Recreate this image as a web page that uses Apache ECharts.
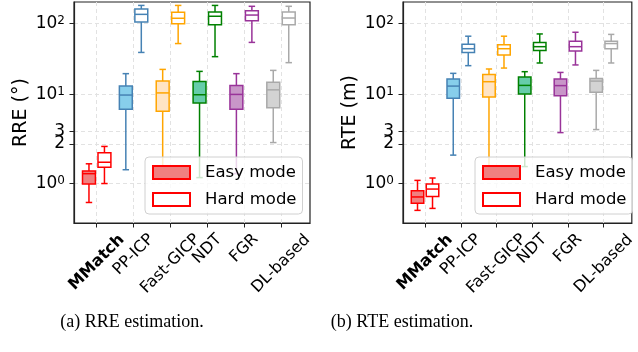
<!DOCTYPE html>
<html>
<head>
<meta charset="utf-8">
<script src="https://cdn.jsdelivr.net/npm/echarts@6/dist/echarts.min.js"></script>
<style>
  html, body { margin: 0; padding: 0; background: #fff; }
  #chart { width: 638px; height: 352px; }
</style>
</head>
<body>
<div id="chart"></div>
<script>
const methods = ['MMatch', 'PP-ICP', 'Fast-GICP', 'NDT', 'FGR', 'DL-based'];
const edgeColors = ['#ff0000', '#4682b4', '#ffa500', '#008000', '#993399', '#a9a9a9'];
const fillColors = ['#f08080', '#87ceeb', '#ffe4c4', '#66cdaa', '#c896c8', '#d3d3d3'];

// [min, q1, median, q3, max] per method
const rreEasy = [[0.52, 0.99, 1.25, 1.32, 1.5], [1.35, 6.2, 9.8, 13.1, 19.6], [1.15, 5.8, 10.5, 15.4, 22.5],
                 [1.15, 7.6, 9.9, 15.2, 21.1], [1.25, 6.2, 10.0, 13.4, 19.6], [2.1, 6.5, 11.6, 14.8, 21.8]];
const rreHard = [[1.0, 1.41, 1.54, 1.78, 1.94], [39, 105, 134, 159, 179], [52, 99, 118, 143, 179],
                 [34, 96, 126, 145, 179], [54, 109, 131, 151, 174], [28, 96, 119, 145, 174]];
const rteEasy = [[0.32, 0.5, 0.66, 0.82, 1.08], [1.72, 8.8, 13.1, 16.5, 19.8], [1.2, 9.2, 15.1, 19.1, 22.8],
                 [1.43, 10.1, 13.4, 17.6, 20.9], [2.9, 9.6, 13.3, 16.5, 20.4], [3.2, 10.7, 15.4, 16.8, 21.8]];
const rteHard = [[0.37, 0.67, 0.86, 0.99, 1.14], [25.4, 39, 44, 51, 66], [23.5, 36, 44, 50, 66],
                 [27.7, 41.6, 47, 54, 71], [26, 41, 47, 56, 75], [27.7, 44, 52, 56, 70]];

const yTickValues = [1, 2, 3, 10, 100];
const yTickLabels = ['10{s|0}', '2', '3', '10{s|1}', '10{s|2}'];
const yMax = 200;

// matplotlib-style symlog, linthresh 2, linscale 1
const LIN = 2, LSC = 1 / 0.9;
function symlog(v) {
    return v <= LIN ? v * LSC : LIN * (LSC + Math.log10(v / LIN));
}

const BOX_W = 0.35;
const OFFSET = 0.21;
const font = 'DejaVu Sans';

// rotated x labels are centred under the tick (matplotlib style), so each one
// gets its own padding based on its measured width
const ctx = document.createElement('canvas').getContext('2d');
const xRich = {};
methods.forEach((m, i) => {
    const weight = i === 0 ? 'bold' : 'normal';
    ctx.font = weight + ' 16px "' + font + '"';
    const pad = Math.round(0.5 * (ctx.measureText(m).width + 14));
    xRich['r' + i] = { fontFamily: font, fontSize: 16, fontWeight: weight, color: '#000', padding: [pad, pad, 0, 0] };
});

function boxSeries(name, stats, offset, filled, idx) {
    return {
        name: name,
        type: 'custom',
        xAxisIndex: idx,
        yAxisIndex: idx,
        itemStyle: filled
            ? { color: '#f08080', borderColor: '#ff0000', borderWidth: 1.5 }
            : { color: '#ffffff', borderColor: '#ff0000', borderWidth: 1.5 },
        encode: { x: 0, y: [1, 2, 3, 4, 5] },
        data: stats.map((s, i) => [i + 1 + offset].concat(s.map(symlog), [i])),
        renderItem: (params, api) => {
            const x = api.value(0);
            const k = api.value(6);
            const [lo, q1, med, q3, hi] = [1, 2, 3, 4, 5].map(d => api.coord([x, api.value(d)])[1]);
            const cx = api.coord([x, 0])[0];
            const hw = api.size([BOX_W, 0])[0] / 2;
            const cw = hw / 2;
            const stroke = edgeColors[k];
            const line = (x1, y1, x2, y2) => ({
                type: 'line', shape: { x1, y1, x2, y2 }, style: { stroke: stroke, lineWidth: 1.5 }
            });
            return {
                type: 'group',
                children: [
                    line(cx, q3, cx, hi),
                    line(cx, q1, cx, lo),
                    line(cx - cw, hi, cx + cw, hi),
                    line(cx - cw, lo, cx + cw, lo),
                    {
                        type: 'rect',
                        shape: { x: cx - hw, y: q3, width: 2 * hw, height: q1 - q3 },
                        style: { fill: filled ? fillColors[k] : '#ffffff', stroke: stroke, lineWidth: 1.5 }
                    },
                    line(cx - hw, med, cx + hw, med)
                ]
            };
        }
    };
}

function xAxisFor(idx) {
    return {
        type: 'value',
        gridIndex: idx,
        min: 0.384,
        max: 6.787,
        axisLine: { lineStyle: { color: '#222', width: 1.2 } },
        axisTick: { customValues: [1, 2, 3, 4, 5, 6], length: 4.5, lineStyle: { color: '#222', width: 1 } },
        axisLabel: {
            customValues: [1, 2, 3, 4, 5, 6],
            rotate: 45,
            align: 'center',
            verticalAlign: 'middle',
            margin: 9,
            fontFamily: font,
            fontSize: 16,
            color: '#000',
            formatter: v => {
                const i = Math.round(v) - 1;
                return '{r' + i + '|' + methods[i] + '}';
            },
            rich: xRich
        },
        splitLine: { show: true, lineStyle: { type: [4, 3], color: '#e2e2e2', width: 1 } }
    };
}

function yAxisFor(idx, name) {
    const ticks = yTickValues.map(symlog);
    return {
        type: 'value',
        gridIndex: idx,
        min: 0,
        max: symlog(yMax),
        name: name,
        nameLocation: 'middle',
        nameGap: 43,
        nameTextStyle: { fontFamily: font, fontSize: 19, color: '#000' },
        axisLine: { show: true, lineStyle: { color: '#222', width: 1.2 } },
        axisTick: { show: true, customValues: ticks, length: 4.5, lineStyle: { color: '#222', width: 1 } },
        axisLabel: {
            customValues: ticks,
            margin: 9,
            fontFamily: font,
            fontSize: 17,
            color: '#000',
            formatter: v => {
                let best = 0;
                ticks.forEach((t, i) => { if (Math.abs(t - v) < Math.abs(ticks[best] - v)) best = i; });
                return yTickLabels[best];
            },
            rich: { s: { fontFamily: font, fontSize: 12, color: '#000', verticalAlign: 'top' } }
        },
        splitLine: { show: true, lineStyle: { type: [4, 3], color: '#e2e2e2', width: 1 } }
    };
}

function legendAt(left) {
    return {
        data: ['Easy mode', 'Hard mode'],
        orient: 'vertical',
        left: left,
        top: 157,
        icon: 'rect',
        itemWidth: 37,
        itemHeight: 13,
        itemGap: 10,
        padding: [7, 6, 6, 7],
        backgroundColor: 'rgba(255,255,255,0.8)',
        borderColor: '#d0d0d0',
        borderWidth: 1,
        borderRadius: 4,
        selectedMode: false,
        textStyle: { fontFamily: font, fontSize: 16.5, color: '#000', padding: [0, 0, 0, 10] }
    };
}

const chart = echarts.init(document.getElementById('chart'));
chart.setOption({
    animation: false,
    grid: [
        { left: 74, top: 2, width: 236, height: 221, show: true, borderColor: '#222', borderWidth: 1.2, backgroundColor: 'transparent' },
        { left: 403, top: 2, width: 236, height: 221, show: true, borderColor: '#222', borderWidth: 1.2, backgroundColor: 'transparent' }
    ],
    xAxis: [xAxisFor(0), xAxisFor(1)],
    yAxis: [yAxisFor(0, 'RRE (°)'), yAxisFor(1, 'RTE (m)')],
    legend: [legendAt(145), legendAt(475)],
    graphic: [
        { type: 'text', x: 132, y: 322, style: { text: '(a) RRE estimation.', textAlign: 'center', textVerticalAlign: 'middle', font: '18px "Liberation Serif"', fill: '#000' } },
        { type: 'text', x: 402, y: 322, style: { text: '(b) RTE estimation.', textAlign: 'center', textVerticalAlign: 'middle', font: '18px "Liberation Serif"', fill: '#000' } }
    ],
    series: [
        boxSeries('Easy mode', rreEasy, -OFFSET, true, 0),
        boxSeries('Hard mode', rreHard, OFFSET, false, 0),
        boxSeries('Easy mode', rteEasy, -OFFSET, true, 1),
        boxSeries('Hard mode', rteHard, OFFSET, false, 1)
    ]
});
</script>
</body>
</html>
